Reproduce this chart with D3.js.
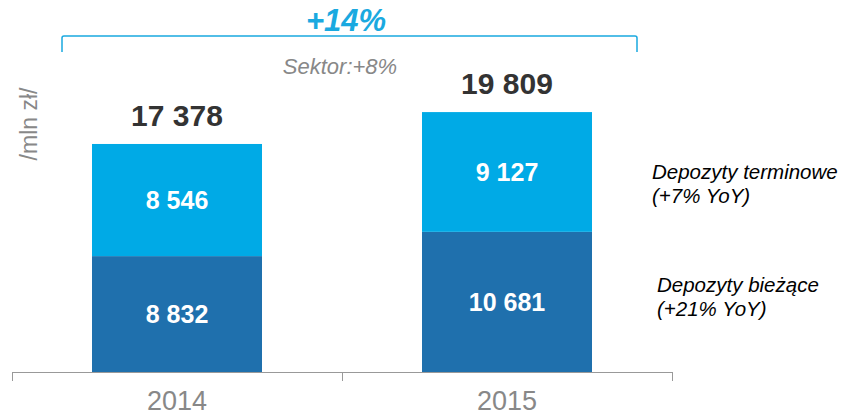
<!DOCTYPE html>
<html>
<head>
<meta charset="utf-8">
<script src="https://cdn.jsdelivr.net/npm/d3@7"></script>
<style>
  body { margin: 0; background: #fff; }
  svg { display: block; }
</style>
</head>
<body>
<div id="chart"></div>
<script>
// data
var years = ["2014", "2015"];
var biezace = [8832, 10681];
var terminowe = [8546, 9127];
var totals = [17378, 19809];
var seriesNames = ["Depozyty bieżące", "Depozyty terminowe"];
var seriesNotes = ["(+21% YoY)", "(+7% YoY)"];
var growthLabel = "+14%";
var sectorLabel = "Sektor:+8%";
var unitLabel = "/mln zł/";

var width = 853;
var height = 418;
var narrow = "'Liberation Sans Narrow', 'Arial Narrow', Arial, sans-serif";
var wide = "'Liberation Sans', Arial, sans-serif";

var svg = d3.select('#chart')
    .append('svg')
    .attr('width', width)
    .attr('height', height);

var x = d3.scaleBand()
    .domain(years)
    .range([12, 672]);

var y = d3.scaleLinear()
    .domain([0, 28350])
    .range([372, 0]);

var barW = 170;

var stack = years.map(function (yr, i) {
    return { year: yr, a: biezace[i], b: terminowe[i], total: totals[i] };
});

function cx(d) { return x(d.year) + x.bandwidth() / 2; }

// dark segment (bieżące)
svg.selectAll('rect.dark')
    .data(stack)
    .enter()
    .append('rect')
    .attr('class', 'dark')
    .attr('x', d => cx(d) - barW / 2)
    .attr('width', barW)
    .attr('y', d => y(d.a))
    .attr('height', d => y(0) - y(d.a))
    .attr('fill', '#1f70ad');

// light segment (terminowe)
svg.selectAll('rect.light')
    .data(stack)
    .enter()
    .append('rect')
    .attr('class', 'light')
    .attr('x', d => cx(d) - barW / 2)
    .attr('width', barW)
    .attr('y', d => y(d.a + d.b))
    .attr('height', d => y(d.a) - y(d.a + d.b))
    .attr('fill', '#00aae6');

function fmt(v) { return d3.format(',')(v).replace(/,/g, ' '); }

// segment labels
svg.selectAll('text.lblA')
    .data(stack)
    .enter()
    .append('text')
    .attr('x', cx)
    .attr('y', d => y(d.a / 2) + 9)
    .attr('text-anchor', 'middle')
    .attr('fill', '#fff')
    .style('font-family', wide)
    .style('font-weight', 'bold')
    .style('font-size', '25px')
    .text(d => fmt(d.a));

svg.selectAll('text.lblB')
    .data(stack)
    .enter()
    .append('text')
    .attr('x', cx)
    .attr('y', d => y(d.a + d.b / 2) + 9)
    .attr('text-anchor', 'middle')
    .attr('fill', '#fff')
    .style('font-family', wide)
    .style('font-weight', 'bold')
    .style('font-size', '25px')
    .text(d => fmt(d.b));

// totals
svg.selectAll('text.total')
    .data(stack)
    .enter()
    .append('text')
    .attr('x', cx)
    .attr('y', d => y(d.total) - 18)
    .attr('text-anchor', 'middle')
    .attr('fill', '#333')
    .style('font-family', narrow)
    .style('font-weight', 'bold')
    .style('font-size', '30px')
    .text(d => fmt(d.total));

// axis
var axis = svg.append('g').attr('stroke', '#999').attr('stroke-width', 1);
axis.append('line')
    .attr('x1', x.range()[0]).attr('x2', x.range()[1])
    .attr('y1', y(0) + 0.5).attr('y2', y(0) + 0.5);
var tickXs = years.map(d => x(d)).concat([x.range()[1]]);
axis.selectAll('line.tick')
    .data(tickXs)
    .enter()
    .append('line')
    .attr('x1', d => d + 0.5).attr('x2', d => d + 0.5)
    .attr('y1', y(0)).attr('y2', y(0) + 9);

svg.selectAll('text.year')
    .data(years)
    .enter()
    .append('text')
    .attr('x', d => x(d) + x.bandwidth() / 2)
    .attr('y', 410)
    .attr('text-anchor', 'middle')
    .attr('fill', '#888')
    .style('font-family', narrow)
    .style('font-size', '27px')
    .text(d => d);

// unit label
svg.append('text')
    .attr('transform', 'translate(37,124) rotate(-90)')
    .attr('text-anchor', 'middle')
    .attr('fill', '#888')
    .style('font-family', narrow)
    .style('font-size', '23px')
    .text(unitLabel);

// growth bracket
var bx1 = 62, bx2 = 637, by = 36;
svg.append('path')
    .attr('d', 'M' + bx1 + ',' + (by + 16) + ' L' + bx1 + ',' + (by + 2) + ' Q' + bx1 + ',' + by + ' ' + (bx1 + 2) + ',' + by +
        ' L' + (bx2 - 2) + ',' + by + ' Q' + bx2 + ',' + by + ' ' + bx2 + ',' + (by + 2) + ' L' + bx2 + ',' + (by + 16))
    .attr('fill', 'none')
    .attr('stroke', '#1aa9e0')
    .attr('stroke-width', 1.5);

svg.append('text')
    .attr('x', 346)
    .attr('y', 31)
    .attr('text-anchor', 'middle')
    .attr('fill', '#1aa9e0')
    .style('font-family', narrow)
    .style('font-weight', 'bold')
    .style('font-style', 'italic')
    .style('font-size', '31px')
    .text(growthLabel);

svg.append('text')
    .attr('x', 340)
    .attr('y', 74)
    .attr('text-anchor', 'middle')
    .attr('fill', '#888')
    .style('font-family', narrow)
    .style('font-style', 'italic')
    .style('font-size', '22px')
    .text(sectorLabel);

// series labels on the right
var legend = [
    { name: seriesNames[1], note: seriesNotes[1], x: 652, y: 179 },
    { name: seriesNames[0], note: seriesNotes[0], x: 657, y: 292 }
];
legend.forEach(function (l) {
    var t = svg.append('text')
        .attr('x', l.x)
        .attr('y', l.y)
        .attr('fill', '#000')
        .style('font-family', wide)
        .style('font-style', 'italic')
        .style('font-size', '20.5px');
    t.append('tspan').attr('x', l.x).text(l.name);
    t.append('tspan').attr('x', l.x).attr('dy', 24).text(l.note);
});
</script>
</body>
</html>
